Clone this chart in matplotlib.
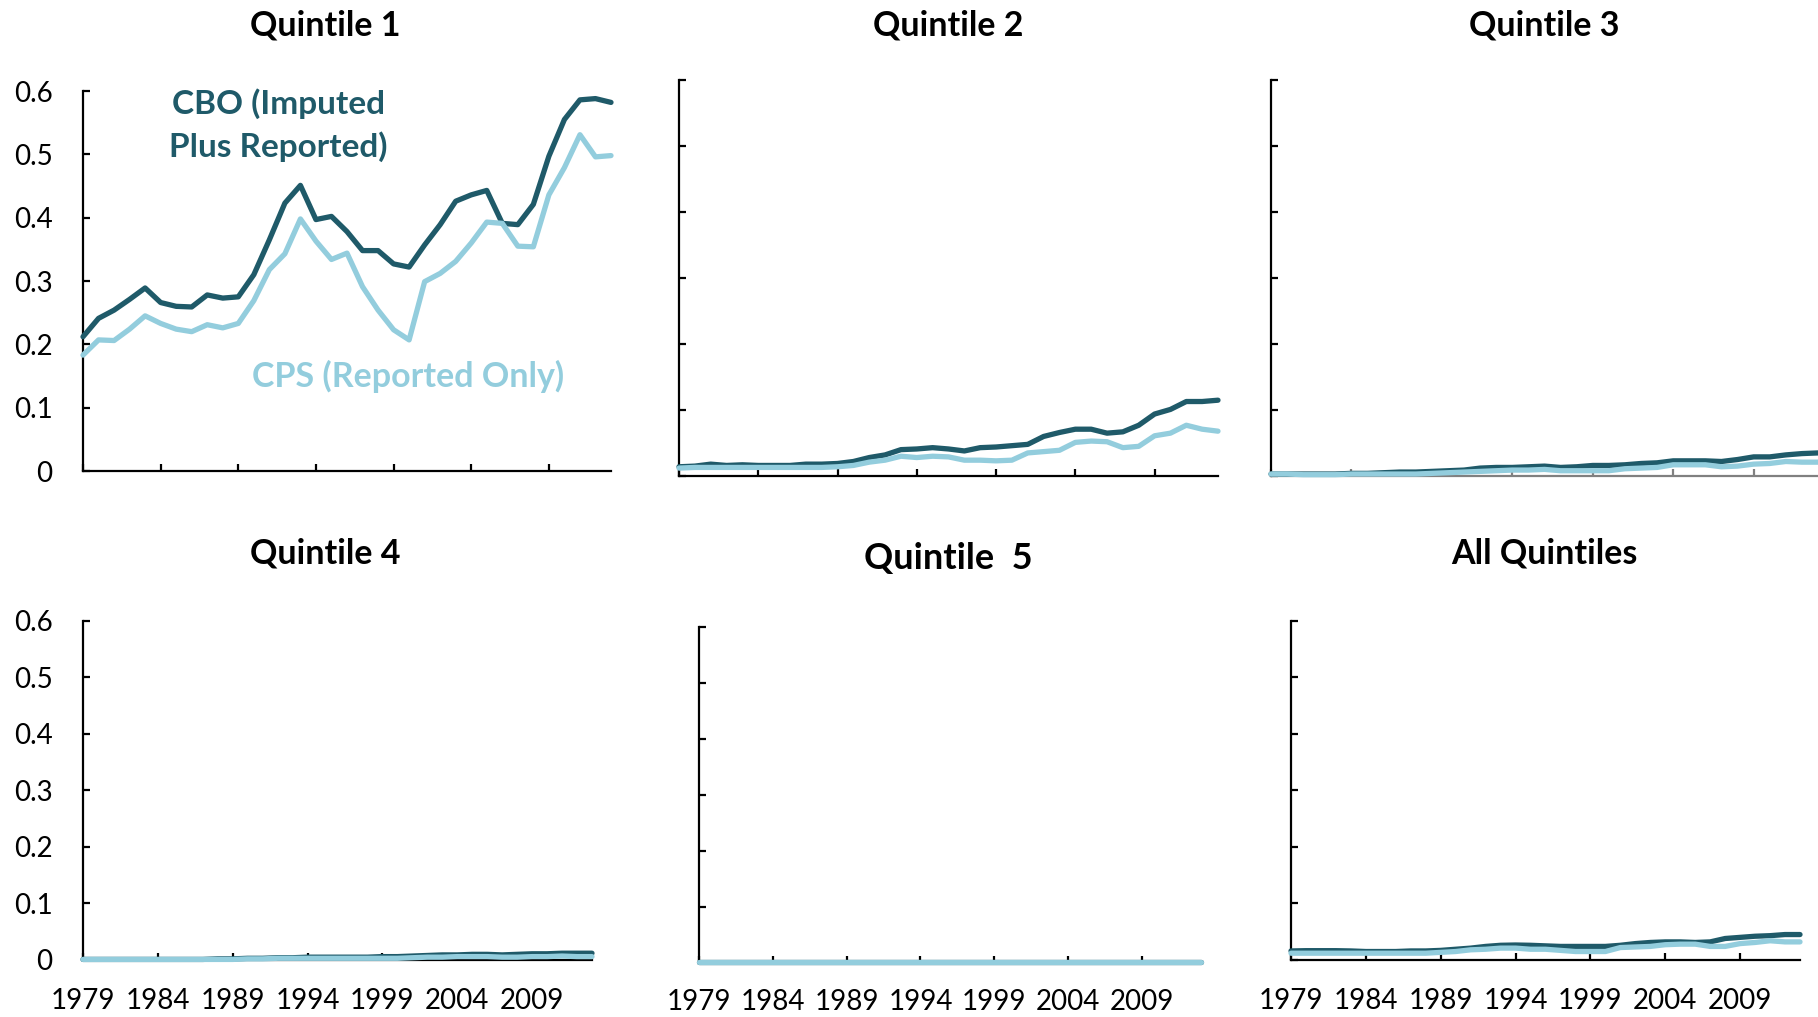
import matplotlib
matplotlib.use("Agg")
import matplotlib.pyplot as plt
import numpy as np

plt.rcParams['font.family'] = ['Lato', 'DejaVu Sans']

years = np.arange(1979, 2014)

# Quintile 1
q1_cbo = [0.212, 0.241, 0.254, 0.271, 0.289, 0.266, 0.260, 0.259, 0.278, 0.273,
          0.275, 0.310, 0.365, 0.423, 0.451, 0.397, 0.402, 0.378, 0.348, 0.348,
          0.327, 0.322, 0.357, 0.389, 0.426, 0.436, 0.443, 0.391, 0.389, 0.421,
          0.497, 0.555, 0.586, 0.588, 0.582]
q1_cps = [0.183, 0.207, 0.206, 0.224, 0.245, 0.233, 0.224, 0.220, 0.231, 0.226,
          0.233, 0.269, 0.318, 0.343, 0.398, 0.363, 0.334, 0.344, 0.291, 0.254,
          0.223, 0.207, 0.299, 0.312, 0.331, 0.360, 0.393, 0.391, 0.355, 0.354,
          0.436, 0.479, 0.531, 0.496, 0.498]
# Quintile 2
q2_cbo = [0.014, 0.015, 0.018, 0.016, 0.017, 0.016, 0.016, 0.016, 0.018, 0.018,
          0.019, 0.022, 0.028, 0.032, 0.040, 0.041, 0.043, 0.041, 0.038, 0.043,
          0.044, 0.046, 0.048, 0.060, 0.066, 0.071, 0.071, 0.065, 0.067, 0.077,
          0.094, 0.101, 0.113, 0.113, 0.115]
q2_cps = [0.012, 0.013, 0.013, 0.013, 0.013, 0.013, 0.013, 0.013, 0.013, 0.013,
          0.014, 0.016, 0.021, 0.024, 0.030, 0.028, 0.030, 0.029, 0.024, 0.024,
          0.023, 0.024, 0.035, 0.037, 0.039, 0.051, 0.053, 0.052, 0.043, 0.045,
          0.061, 0.065, 0.077, 0.071, 0.068]
# Quintile 3
q3_cbo = [0.003, 0.003, 0.003, 0.003, 0.003, 0.004, 0.004, 0.005, 0.006, 0.006,
          0.007, 0.008, 0.009, 0.012, 0.013, 0.013, 0.014, 0.015, 0.013, 0.014,
          0.016, 0.016, 0.017, 0.019, 0.020, 0.023, 0.023, 0.023, 0.022, 0.025,
          0.029, 0.029, 0.032, 0.034, 0.035]
q3_cps = [0.003, 0.003, 0.002, 0.002, 0.002, 0.003, 0.003, 0.003, 0.003, 0.003,
          0.004, 0.005, 0.006, 0.007, 0.008, 0.009, 0.009, 0.010, 0.008, 0.008,
          0.008, 0.008, 0.011, 0.012, 0.013, 0.017, 0.017, 0.017, 0.014, 0.015,
          0.018, 0.019, 0.022, 0.021, 0.021]
# Quintile 4
q4_cbo = [0.001, 0.001, 0.001, 0.001, 0.001, 0.001, 0.001, 0.001, 0.001, 0.002,
          0.002, 0.003, 0.003, 0.004, 0.004, 0.005, 0.005, 0.005, 0.005, 0.005,
          0.006, 0.006, 0.007, 0.008, 0.009, 0.009, 0.010, 0.010, 0.009, 0.010,
          0.011, 0.011, 0.012, 0.012, 0.012]
q4_cps = [0.001, 0.001, 0.001, 0.001, 0.001, 0.001, 0.001, 0.001, 0.001, 0.001,
          0.001, 0.002, 0.002, 0.003, 0.003, 0.003, 0.003, 0.003, 0.003, 0.003,
          0.003, 0.003, 0.004, 0.005, 0.005, 0.006, 0.006, 0.006, 0.005, 0.005,
          0.006, 0.006, 0.007, 0.006, 0.006]
# Quintile 5
q5_cbo = [0.001] * 35
q5_cps = [0.001] * 35
# All quintiles
all_cbo = [0.016, 0.0165, 0.0165, 0.0165, 0.016, 0.015, 0.015, 0.015, 0.016, 0.016,
           0.017, 0.019, 0.021, 0.024, 0.026, 0.0265, 0.026, 0.025, 0.024, 0.024,
           0.024, 0.024, 0.026, 0.029, 0.031, 0.032, 0.032, 0.031, 0.032, 0.038,
           0.040, 0.042, 0.043, 0.045, 0.045]
all_cps = [0.012, 0.012, 0.012, 0.012, 0.012, 0.012, 0.012, 0.012, 0.012, 0.012,
           0.0135, 0.015, 0.018, 0.019, 0.021, 0.021, 0.019, 0.019, 0.017, 0.015,
           0.015, 0.015, 0.022, 0.023, 0.024, 0.027, 0.028, 0.028, 0.024, 0.024,
           0.029, 0.031, 0.034, 0.032, 0.032]

titles = ['Quintile 1', 'Quintile 2', 'Quintile 3', 'Quintile 4', 'Quintile  5', 'All Quintiles']
series = [(q1_cbo, q1_cps), (q2_cbo, q2_cps), (q3_cbo, q3_cps),
          (q4_cbo, q4_cps), (q5_cbo, q5_cps), (all_cbo, all_cps)]
yticks = [0, 0.1, 0.2, 0.3, 0.4, 0.5, 0.6]
ylabels = ['0', '0.1', '0.2', '0.3', '0.4', '0.5', '0.6']
xticks = [1979, 1984, 1989, 1994, 1999, 2004, 2009]

dark = '#1f5a69'
light = '#93cddd'

W, H = 1818, 1017
fig = plt.figure(figsize=(W / 100, H / 100), dpi=100)

# panel boxes in pixels: left, right, top, bottom
boxes = [(83, 611, 91, 471), (679, 1218, 80.5, 476), (1271, 1818, 80.5, 476),
         (83, 592, 620.5, 960), (699, 1201, 627, 963), (1291, 1800, 620.5, 960)]
# title centres in pixels
title_pos = [(325, 26), (948, 26), (1544, 26), (325, 553), (948, 558), (1544, 553)]
title_sizes = [24.5, 24.5, 24.5, 24.5, 26, 24.5]
xpads = [20, 20, 20, 20, 19, 20]

for i, (l, r, t, b) in enumerate(boxes):
    ax = fig.add_axes([l / W, 1 - b / H, (r - l) / W, (b - t) / H])
    cbo, cps = series[i]
    ax.plot(years, cbo, color=dark, lw=3.8, zorder=3, clip_on=False, solid_capstyle='round')
    ax.plot(years, cps, color=light, lw=3.8, zorder=4, clip_on=False, solid_capstyle='round')
    ax.set_xlim(1979, 2013)
    ax.set_ylim(0, 0.6)
    for s in ['top', 'right']:
        ax.spines[s].set_visible(False)
    for s in ['left', 'bottom']:
        ax.spines[s].set_linewidth(1.6)
        ax.spines[s].set_color('black')
    ax.set_yticks(yticks)
    ax.set_xticks(xticks)
    ax.tick_params(direction='in', length=5, width=1.6, colors='black')
    ax.tick_params(axis='y', labelsize=20, pad=22)
    ax.tick_params(axis='x', labelsize=20, pad=xpads[i])
    if i in (0, 3):
        ax.set_yticklabels(ylabels)
    else:
        ax.set_yticklabels([])
    if i < 3:
        ax.set_xticklabels([])
    if i == 2:
        ax.spines['bottom'].set_color('#808080')
        ax.tick_params(axis='x', colors='#808080')
    ax.patch.set_visible(False)
    tx, ty = title_pos[i]
    fig.text(tx / W, 1 - ty / H, titles[i], ha='center', va='center',
             fontsize=title_sizes[i], fontweight='bold')

fig.text(278 / W, 1 - 125 / H, 'CBO (Imputed\nPlus Reported)', color=dark,
         ha='center', va='center', fontsize=24, fontweight='bold', linespacing=1.45)
fig.text(408 / W, 1 - 376 / H, 'CPS (Reported Only)', color=light,
         ha='center', va='center', fontsize=24.5, fontweight='bold')

fig.savefig('out.png', dpi=100)
